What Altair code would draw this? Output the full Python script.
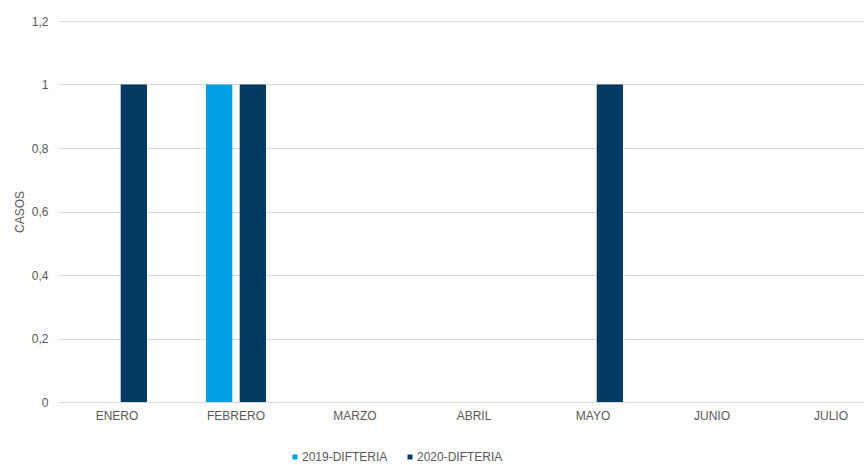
import altair as alt
import pandas as pd

months = ["ENERO", "FEBRERO", "MARZO", "ABRIL", "MAYO", "JUNIO", "JULIO"]
series = ["2019-DIFTERIA", "2020-DIFTERIA"]
values_2019 = [0, 1, 0, 0, 0, 0, 0]
values_2020 = [1, 1, 0, 0, 1, 0, 0]
colors = ["#009fe3", "#003a63"]
y_ticks = [0, 0.2, 0.4, 0.6, 0.8, 1.0, 1.2]

rows = []
for m, a, b in zip(months, values_2019, values_2020):
    rows.append({"mes": m, "serie": series[0], "casos": a})
    rows.append({"mes": m, "serie": series[1], "casos": b})
df = pd.DataFrame(rows)

font = "Liberation Sans"

chart = alt.Chart(df).mark_bar().encode(
    x=alt.X("mes:N", sort=months, title=None,
            scale=alt.Scale(paddingInner=0.496, paddingOuter=0.1345, align=0.906),
            axis=alt.Axis(labelAngle=0, ticks=False, domainColor="#d9d9d9",
                          labelColor="#595959", labelFont=font, labelFontSize=12,
                          labelPadding=8)),
    xOffset=alt.XOffset("serie:N", sort=series,
                        scale=alt.Scale(paddingInner=0.22, paddingOuter=0)),
    y=alt.Y("casos:Q", title="CASOS",
            scale=alt.Scale(domain=[0, 1.2], nice=False),
            axis=alt.Axis(values=y_ticks, domain=False, ticks=False,
                          labelExpr="replace(format(datum.value, '.1~f'), '.', ',')",
                          labelColor="#595959", labelFont=font, labelFontSize=12,
                          labelPadding=10, gridColor="#d9d9d9",
                          titleColor="#595959", titleFont=font, titleFontSize=12,
                          titleFontWeight="normal", titlePadding=5)),
    color=alt.Color("serie:N", sort=series, title=None,
                    scale=alt.Scale(domain=series, range=colors),
                    legend=alt.Legend(orient="none", direction="horizontal",
                                      legendX=231, legendY=430,
                                      symbolType="square", symbolSize=25,
                                      labelFont=font, labelFontSize=12,
                                      labelColor="#595959", labelOffset=1,
                                      columnPadding=16)),
).properties(
    width=806, height=381,
    autosize=alt.AutoSizeParams(type="none"),
    padding={"left": 58, "top": 21, "right": 0, "bottom": 63},
).configure_view(stroke=None)

chart.save("out.html", embed_options={"renderer": "svg", "actions": False})
